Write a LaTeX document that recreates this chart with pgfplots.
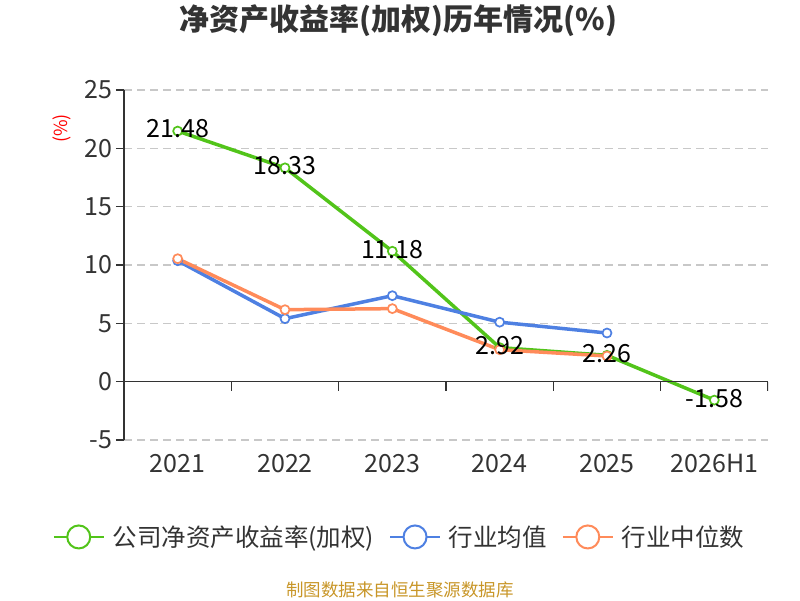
\documentclass[border=0pt]{standalone}
\usepackage{fontspec}
\setmainfont{Noto Sans CJK SC}
\usepackage{pgfplots}
\usepackage{pgfplotstable}
\pgfplotsset{compat=1.18}
\definecolor{cgreen}{RGB}{82,196,26}
\definecolor{cblue}{RGB}{78,128,226}
\definecolor{corange}{RGB}{255,139,90}
\definecolor{ctext}{RGB}{51,51,51}
\definecolor{cgold}{RGB}{200,150,40}
\definecolor{cgrid}{RGB}{200,200,200}
\pgfplotstableread{
x comp compl mean median
0 21.48 21.48 10.37 10.54
1 18.33 18.33 5.40 6.17
2 11.18 11.18 7.37 6.26
3 2.92 2.92 5.10 2.74
4 2.26 2.26 4.17 2.20
5 -1.58 -1.58 nan nan
}\roedata
\begin{document}
\begin{tikzpicture}
\useasboundingbox (0,0) rectangle (800pt,600pt);
\begin{axis}[
  at={(124pt,160pt)}, anchor=south west,
  scale only axis, width=644pt, height=350pt,
  xmin=-0.5, xmax=5.5, ymin=-5, ymax=25,
  axis y line*=left, axis x line*=bottom,
  x axis line style={draw=none},
  y axis line style={-, draw=ctext, line width=1.3pt},
  xtick={0,...,5},
  xticklabels={2021,2022,2023,2024,2025,2026H1},
  xtick style={draw=none},
  ytick={-5,0,5,10,15,20,25},
  ytick style={draw=ctext, line width=1.3pt},
  tick align=outside, major tick length=8pt,
  ymajorgrids, grid style={cgrid, line width=1.2pt, dash pattern=on 8pt off 5pt},
  /pgf/number format/assume math mode=true,
  tick label style={font=\fontsize{25}{29}\selectfont, text=ctext},
  xticklabel style={yshift=-3pt},
  title={\textbf{净资产收益率(加权)历年情况(\%)}},
  title style={at={(axis description cs:0.426,1.182)}, anchor=center, font=\fontsize{30}{35}\selectfont, text=ctext},
  ylabel={(\%)},
  ylabel style={at={(axis description cs:-0.0963,0.89)}, anchor=center, rotate=0, font=\fontsize{18}{22}\selectfont, text=red},
  legend columns=3,
  legend style={at={(axis description cs:0.430,-0.277)}, anchor=center, draw=none, fill=none,
    font=\fontsize{24.5}{28}\selectfont, text=ctext,
    /tikz/every even column/.append style={column sep=10pt},
    nodes={inner xsep=5pt}},
  legend image code/.code={
    \draw[line width=2pt] (0pt,0pt) -- (50pt,0pt);
    \draw[line width=2pt, fill=white] (25pt,0pt) circle (11.5pt);
    \path (52pt,0pt);
  },
  every axis plot/.append style={line width=3.5pt},
  mark options={solid, fill=white, line width=1.7pt},
  unbounded coords=jump,
]
\addplot[cgreen, mark=*, mark size=4.5pt] table[x=x, y=comp] {\roedata};
\addlegendentry{公司净资产收益率(加权)}
\addplot[cblue, mark=*, mark size=4.5pt] table[x=x, y=mean] {\roedata};
\addlegendentry{行业均值}
\addplot[corange, mark=*, mark size=4.5pt] table[x=x, y=median] {\roedata};
\addlegendentry{行业中位数}
\addplot[draw=none, mark=none, forget plot,
  nodes near coords, point meta=explicit symbolic,
  every node near coord/.style={anchor=center, yshift=2pt, text=black, font=\fontsize{25}{29}\selectfont}]
  table[x=x, y=comp, meta=compl] {\roedata};
\draw[ctext, line width=1.3pt] (axis cs:-0.5,0) -- (axis cs:5.5,0);
\pgfplotsinvokeforeach{0.5,1.5,2.5,3.5,4.5,5.5}{
  \draw[ctext, line width=1.3pt] (axis cs:#1,0) -- ++(0pt,-9pt);
}
\end{axis}
\node[text=cgold, font=\fontsize{17.5}{21}\selectfont] at (400pt,10pt) {制图数据来自恒生聚源数据库};
\end{tikzpicture}
\end{document}
